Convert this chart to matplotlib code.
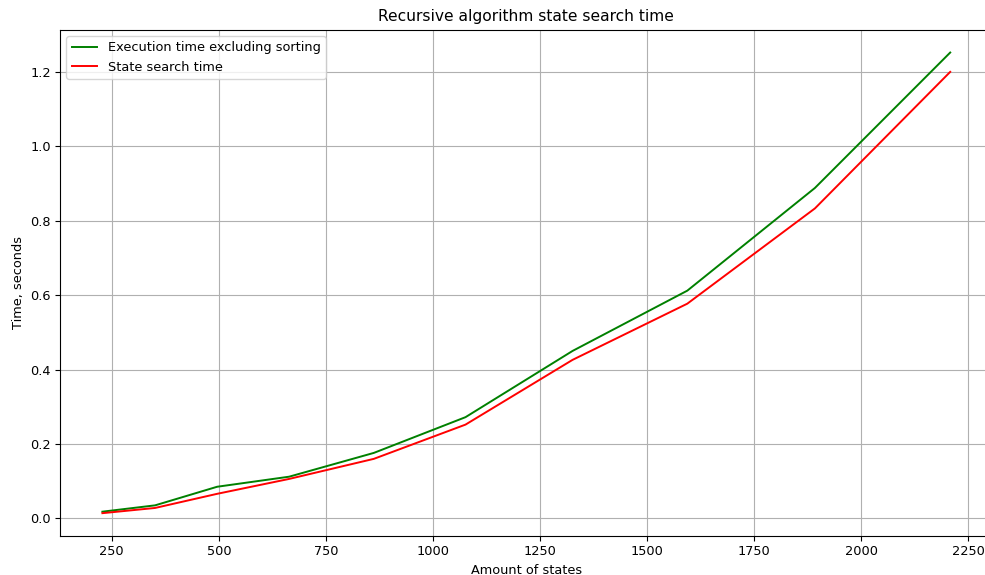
import matplotlib
matplotlib.use("Agg")
import matplotlib.pyplot as plt

# amount of states vs time (seconds)
states = [228, 351, 496, 664, 862, 1076, 1326, 1594, 1892, 2208]
exec_time = [0.018, 0.035, 0.085, 0.112, 0.176, 0.272, 0.450, 0.612, 0.888, 1.252]
search_time = [0.014, 0.028, 0.066, 0.106, 0.160, 0.252, 0.426, 0.577, 0.833, 1.200]

plt.rcParams["font.size"] = 9.3
plt.rcParams["xtick.major.size"] = 3.3
plt.rcParams["ytick.major.size"] = 3.3
plt.rcParams["xtick.major.pad"] = 3.2
plt.rcParams["ytick.major.pad"] = 3.2

fig = plt.figure(figsize=(9.85, 5.75), dpi=100)
ax = fig.add_axes([60 / 985, 38.8 / 575, 932.6 / 985, 506.7 / 575])

ax.plot(states, exec_time, color="g", lw=1.4, label="Execution time excluding sorting")
ax.plot(states, search_time, color="r", lw=1.4, label="State search time")

ax.set_title("Recursive algorithm state search time", fontsize=11.2)
ax.set_xlabel("Amount of states")
ax.set_ylabel("Time, seconds")
ax.grid(True)
ax.legend(loc="upper left")

fig.savefig("out.png", dpi=100)
